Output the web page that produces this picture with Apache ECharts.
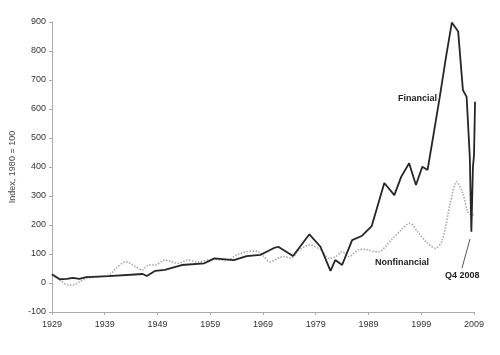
<!DOCTYPE html>
<html>
<head>
<meta charset="utf-8">
<script src="https://cdn.jsdelivr.net/npm/echarts@6/dist/echarts.min.js"></script>
<style>
html,body{margin:0;padding:0;background:#fff;}
#chart{width:500px;height:355px;}
</style>
</head>
<body>
<div id="chart"></div>
<script>
var baseYear = 1929;
var xTickLabels = ['1929','1939','1949','1959','1969','1979','1989','1999','2009'];
var yTickLabels = ['-100','0','100','200','300','400','500','600','700','800','900'];

var finYears = [1929.0,1930.5,1931.8,1933.0,1934.2,1935.5,1939.8,1946.2,1947.0,1948.6,1950.4,1953.6,1957.9,1959.8,1963.5,1965.9,1968.5,1969.7,1971.0,1971.9,1974.7,1977.8,1979.9,1981.8,1982.7,1984.0,1985.9,1987.7,1989.6,1992.0,1993.9,1995.2,1996.7,1998.0,1999.2,2000.2,2001.1,2002.5,2003.7,2004.8,2006.0,2006.9,2007.6,2008.2,2008.5,2008.8,2009.0,2009.2];
var finValues = [30,13,14,18,14,20,24,31,24,42,45,62,68,85,79,93,97,108,120,125,93,168,125,42,79,62,148,162,196,345,303,366,413,338,401,390,487,640,780,898,867,665,642,436,177,400,440,625];

var nonfinYears = [1929.0,1930.5,1932.1,1933.0,1934.3,1935.5,1937.4,1939.9,1941.1,1943.0,1944.9,1946.1,1947.3,1948.6,1950.4,1952.9,1954.8,1956.7,1959.8,1962.0,1964.1,1966.0,1967.8,1969.1,1970.3,1972.8,1974.3,1975.9,1977.8,1980.0,1981.5,1982.8,1984.0,1985.3,1987.1,1988.4,1990.2,1990.9,1993.3,1995.2,1996.8,1998.3,2000.2,2001.7,2003.0,2004.5,2005.7,2006.9,2007.8,2008.6,2009.2];
var nonfinValues = [28,10,-7,-7,5,16,20,28,50,73,56,45,62,62,79,68,79,73,82,77,97,108,110,93,73,91,86,114,131,114,85,91,108,91,114,116,108,108,148,183,206,177,137,120,148,275,349,309,246,234,240];

function pairs(xs, vs){ return xs.map(function(x,i){ return [x - baseYear, vs[i]]; }); }

var chart = echarts.init(document.getElementById('chart'));
var font = 'Liberation Sans, Arial, sans-serif';
chart.setOption({
  animation:false,
  backgroundColor:'#fff',
  grid:{left:45,right:26,top:22,bottom:43},
  xAxis:{
    type:'value',min:0,max:80,interval:10,
    axisLine:{show:true,onZero:false,lineStyle:{color:'#aaa',width:1}},
    axisTick:{show:true,length:3,lineStyle:{color:'#aaa'}},
    splitLine:{show:false},
    axisLabel:{color:'#333',fontFamily:font,fontSize:9,margin:8,
      formatter:function(v){ return xTickLabels[Math.round(v/10)]; }}
  },
  yAxis:{
    type:'value',min:-100,max:900,interval:100,
    name:'Index, 1980 = 100',nameLocation:'middle',nameGap:29,
    nameTextStyle:{color:'#444',fontFamily:font,fontSize:9},
    axisLine:{show:true,lineStyle:{color:'#aaa',width:1}},
    axisTick:{show:true,length:3,lineStyle:{color:'#aaa'}},
    splitLine:{show:false},
    axisLabel:{color:'#333',fontFamily:font,fontSize:9,margin:6,
      formatter:function(v){ return yTickLabels[Math.round((v+100)/100)]; }}
  },
  series:[
    {name:'Nonfinancial',type:'line',data:pairs(nonfinYears,nonfinValues),
     showSymbol:false,smooth:0.3,
     lineStyle:{color:'#a8a8a8',width:1.6,type:[1.5,1.5]},z:2},
    {name:'Financial',type:'line',data:pairs(finYears,finValues),
     showSymbol:false,
     lineStyle:{color:'#262626',width:1.8},z:3}
  ],
  graphic:[
    {type:'text',left:398,top:94,style:{text:'Financial',fill:'#222',font:'bold 9px '+font}},
    {type:'text',left:375,top:258,style:{text:'Nonfinancial',fill:'#222',font:'bold 9px '+font}},
    {type:'text',left:445,top:271,style:{text:'Q4 2008',fill:'#222',font:'bold 9px '+font}},
    {type:'line',shape:{x1:470,y1:239,x2:462,y2:268},style:{stroke:'#555',lineWidth:1}}
  ]
});
</script>
</body>
</html>
